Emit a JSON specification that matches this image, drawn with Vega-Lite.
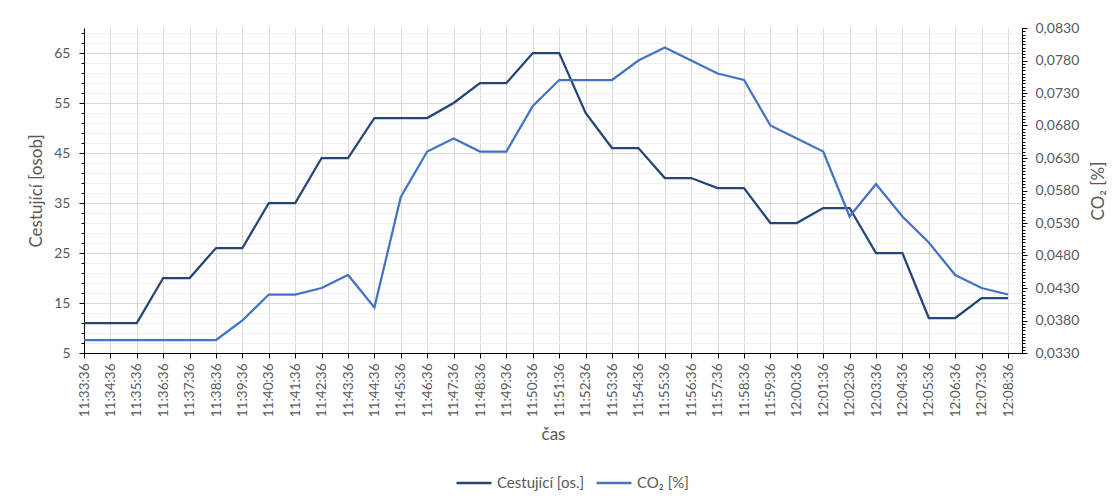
{
  "$schema": "https://vega.github.io/schema/vega-lite/v6.json",
  "width": 938,
  "height": 325,
  "autosize": {"type": "none"},
  "padding": {"left": 84, "top": 28, "right": 93, "bottom": 145},
  "background": "white",
  "config": {
    "locale": {"number": {"decimal": ",", "thousands": " ", "grouping": [3], "currency": ["", " Kč"]}},
    "view": {"stroke": null},
    "font": "Lato",
    "axis": {
      "labelFont": "Lato", "labelFontSize": 13.5, "labelColor": "#595959",
      "titleFont": "Lato", "titleFontSize": 17, "titleColor": "#595959", "titleFontWeight": "normal",
      "domainColor": "#000000", "domainWidth": 1, "tickColor": "#000000", "tickWidth": 1,
      "gridColor": "#d9d9d9", "gridWidth": 1, "labelOverlap": false
    },
    "legend": {
      "orient": "none", "legendX": 371, "legendY": 436, "direction": "horizontal",
      "symbolType": "stroke", "symbolSize": 1225, "symbolStrokeWidth": 2.5,
      "labelFont": "Lato, DejaVu Sans", "labelFontSize": 15, "labelColor": "#595959",
      "labelOffset": 4, "columnPadding": 6, "labelLimit": 300
    }
  },
  "data": {"values": [
    {"cas": "11:33:36", "cestujici": 11, "co2": 0.035},
    {"cas": "11:34:36", "cestujici": 11, "co2": 0.035},
    {"cas": "11:35:36", "cestujici": 11, "co2": 0.035},
    {"cas": "11:36:36", "cestujici": 20, "co2": 0.035},
    {"cas": "11:37:36", "cestujici": 20, "co2": 0.035},
    {"cas": "11:38:36", "cestujici": 26, "co2": 0.035},
    {"cas": "11:39:36", "cestujici": 26, "co2": 0.038},
    {"cas": "11:40:36", "cestujici": 35, "co2": 0.042},
    {"cas": "11:41:36", "cestujici": 35, "co2": 0.042},
    {"cas": "11:42:36", "cestujici": 44, "co2": 0.043},
    {"cas": "11:43:36", "cestujici": 44, "co2": 0.045},
    {"cas": "11:44:36", "cestujici": 52, "co2": 0.040},
    {"cas": "11:45:36", "cestujici": 52, "co2": 0.057},
    {"cas": "11:46:36", "cestujici": 52, "co2": 0.064},
    {"cas": "11:47:36", "cestujici": 55, "co2": 0.066},
    {"cas": "11:48:36", "cestujici": 59, "co2": 0.064},
    {"cas": "11:49:36", "cestujici": 59, "co2": 0.064},
    {"cas": "11:50:36", "cestujici": 65, "co2": 0.071},
    {"cas": "11:51:36", "cestujici": 65, "co2": 0.075},
    {"cas": "11:52:36", "cestujici": 53, "co2": 0.075},
    {"cas": "11:53:36", "cestujici": 46, "co2": 0.075},
    {"cas": "11:54:36", "cestujici": 46, "co2": 0.078},
    {"cas": "11:55:36", "cestujici": 40, "co2": 0.080},
    {"cas": "11:56:36", "cestujici": 40, "co2": 0.078},
    {"cas": "11:57:36", "cestujici": 38, "co2": 0.076},
    {"cas": "11:58:36", "cestujici": 38, "co2": 0.075},
    {"cas": "11:59:36", "cestujici": 31, "co2": 0.068},
    {"cas": "12:00:36", "cestujici": 31, "co2": 0.066},
    {"cas": "12:01:36", "cestujici": 34, "co2": 0.064},
    {"cas": "12:02:36", "cestujici": 34, "co2": 0.054},
    {"cas": "12:03:36", "cestujici": 25, "co2": 0.059},
    {"cas": "12:04:36", "cestujici": 25, "co2": 0.054},
    {"cas": "12:05:36", "cestujici": 12, "co2": 0.050},
    {"cas": "12:06:36", "cestujici": 12, "co2": 0.045},
    {"cas": "12:07:36", "cestujici": 16, "co2": 0.043},
    {"cas": "12:08:36", "cestujici": 16, "co2": 0.042}
  ]},
  "layer": [
    {
      "mark": {"type": "line", "strokeWidth": 2.25},
      "encoding": {
        "x": {
          "field": "cas", "type": "ordinal", "sort": null,
          "scale": {"type": "point", "padding": 0.265, "align": 0},
          "axis": {"title": "čas", "labelAngle": -90, "grid": true, "tickSize": 5, "labelPadding": 5, "titlePadding": 10}
        },
        "y": {
          "field": "cestujici", "type": "quantitative",
          "scale": {"domain": [5, 70], "nice": false, "zero": false},
          "axis": {
            "title": "Cestující [osob]",
            "values": [5,7,9,11,13,15,17,19,21,23,25,27,29,31,33,35,37,39,41,43,45,47,49,51,53,55,57,59,61,63,65,67,69],
            "labelExpr": "(datum.value - 5) % 10 == 0 ? datum.label : ''",
            "labelFontSize": 14,
            "grid": true,
            "gridColor": {"condition": {"test": "(datum.value - 5) % 10 == 0", "value": "#d9d9d9"}, "value": "#efefef"},
            "tickSize": {"condition": {"test": "(datum.value - 5) % 10 == 0", "value": 5}, "value": 3},
            "labelPadding": 9,
            "titlePadding": 8
          }
        },
        "color": {
          "datum": "Cestující [os.]", "type": "nominal",
          "scale": {"domain": ["Cestující [os.]", "CO₂ [%]"], "range": ["#264478", "#4472C4"]},
          "legend": {"title": null}
        }
      }
    },
    {
      "mark": {"type": "line", "strokeWidth": 2.25},
      "encoding": {
        "x": {"field": "cas", "type": "ordinal", "sort": null},
        "y": {
          "field": "co2", "type": "quantitative",
          "scale": {"domain": [0.033, 0.083], "nice": false, "zero": false},
          "axis": {
            "orient": "right",
            "title": "CO₂ [%]",
            "titleAngle": 270,
            "titleBaseline": "top",
            "format": ".4f",
            "labelFontSize": 14,
            "values": [0.033,0.0335,0.034,0.0345,0.035,0.0355,0.036,0.0365,0.037,0.0375,0.038,0.0385,0.039,0.0395,0.04,0.0405,0.041,0.0415,0.042,0.0425,0.043,0.0435,0.044,0.0445,0.045,0.0455,0.046,0.0465,0.047,0.0475,0.048,0.0485,0.049,0.0495,0.05,0.0505,0.051,0.0515,0.052,0.0525,0.053,0.0535,0.054,0.0545,0.055,0.0555,0.056,0.0565,0.057,0.0575,0.058,0.0585,0.059,0.0595,0.06,0.0605,0.061,0.0615,0.062,0.0625,0.063,0.0635,0.064,0.0645,0.065,0.0655,0.066,0.0665,0.067,0.0675,0.068,0.0685,0.069,0.0695,0.07,0.0705,0.071,0.0715,0.072,0.0725,0.073,0.0735,0.074,0.0745,0.075,0.0755,0.076,0.0765,0.077,0.0775,0.078,0.0785,0.079,0.0795,0.08,0.0805,0.081,0.0815,0.082,0.0825,0.083],
            "labelExpr": "round(datum.value * 10000) % 50 == 30 ? datum.label : ''",
            "grid": false,
            "tickSize": {"condition": {"test": "round(datum.value * 10000) % 50 == 30", "value": 5}, "value": 3},
            "labelPadding": 8,
            "titlePadding": 12
          }
        },
        "color": {"datum": "CO₂ [%]", "type": "nominal"}
      }
    }
  ],
  "resolve": {"scale": {"y": "independent"}}
}
